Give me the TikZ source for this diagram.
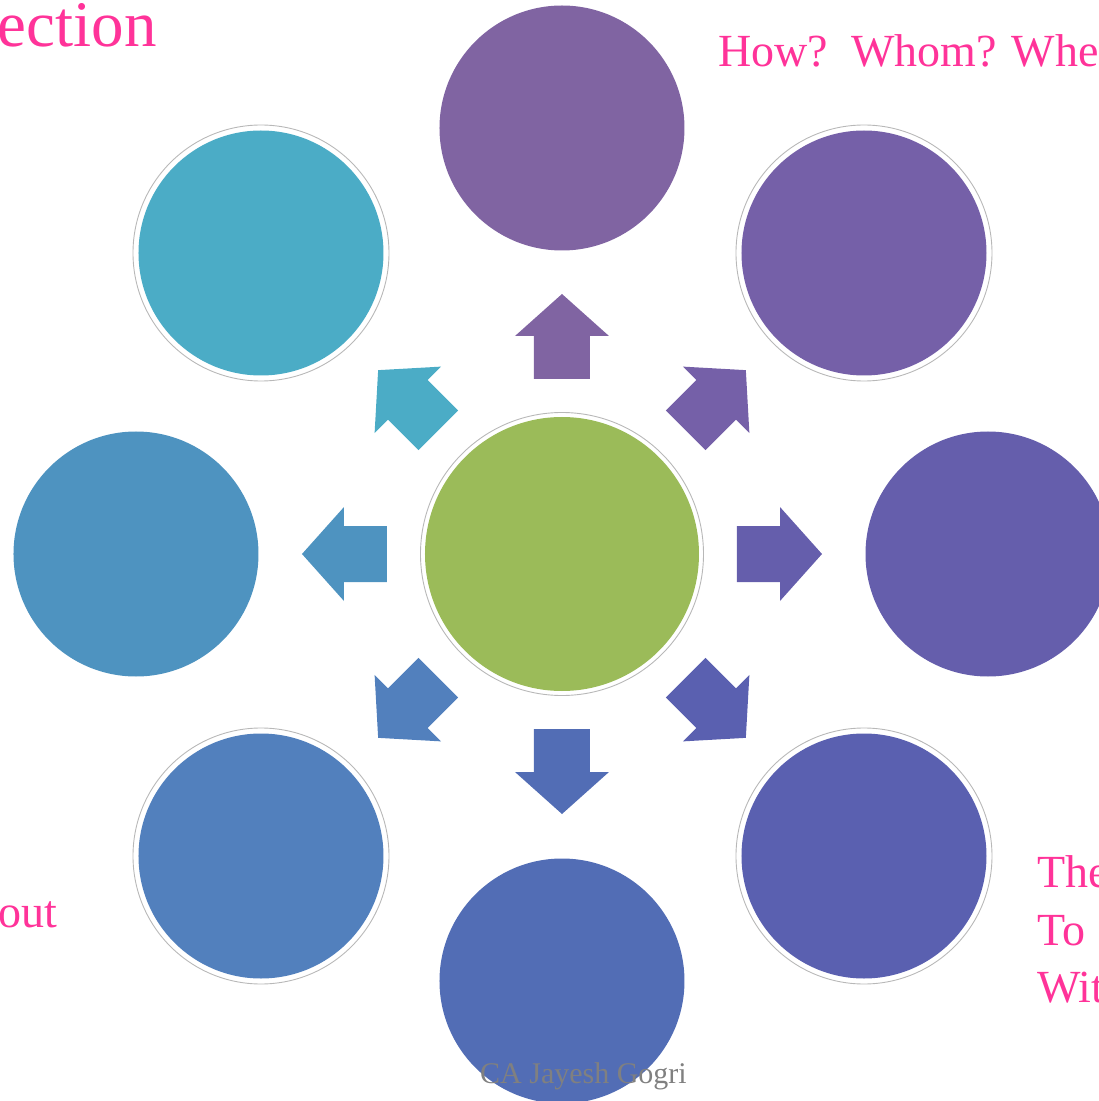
\documentclass[tikz,border=0pt]{standalone}
\usepackage{fontspec}
\setmainfont{Liberation Serif}
\definecolor{coregreen}{HTML}{9BBB59}
\definecolor{cN}{HTML}{8064A2}
\definecolor{cNE}{HTML}{7560A8}
\definecolor{cE}{HTML}{655EAC}
\definecolor{cSE}{HTML}{5A60B0}
\definecolor{cS}{HTML}{526DB5}
\definecolor{cSW}{HTML}{5280BD}
\definecolor{cW}{HTML}{4E93C0}
\definecolor{cNW}{HTML}{4BACC6}
\definecolor{tagpink}{RGB}{255,51,153}
\begin{document}
\begin{tikzpicture}[x=1pt,y=1pt,
  petal/.style={circle,fill=#1,draw=none,minimum size=245pt,inner sep=0pt},
  ring/.style={draw=black!28,line width=0.9pt},
  tag/.style={text=tagpink,font=\fontsize{46}{46}\selectfont,inner sep=0pt}]
\useasboundingbox (-562,-547) rectangle (537,554);
\clip (-562,-547) rectangle (537,554);
% centre and the eight outer circles
\node[circle,fill=coregreen,minimum size=274pt,inner sep=0pt] (core) at (0,0) {};
\draw[ring] (core.center) circle[radius=141.5];
\node[petal=cN] (pN) at (0,426) {};
\node[petal=cNE] (pNE) at (302,301) {};
\draw[ring] (pNE.center) circle[radius=128];
\node[petal=cE] (pE) at (426,0) {};
\node[petal=cSE] (pSE) at (302,-302) {};
\draw[ring] (pSE.center) circle[radius=128];
\node[petal=cS] (pS) at (0,-427) {};
\node[petal=cSW] (pSW) at (-301,-302) {};
\draw[ring] (pSW.center) circle[radius=128];
\node[petal=cW] (pW) at (-426,0) {};
\node[petal=cNW] (pNW) at (-301,301) {};
\draw[ring] (pNW.center) circle[radius=128];
% block arrows
\fill[cN,rotate=90] (175,-28) -- (218,-28) -- (218,-47) -- (260,0) -- (218,47) -- (218,28) -- (175,28) -- cycle;
\fill[cNE,rotate=45] (175,-28) -- (218,-28) -- (218,-47) -- (260,0) -- (218,47) -- (218,28) -- (175,28) -- cycle;
\fill[cE,rotate=0] (175,-28) -- (218,-28) -- (218,-47) -- (260,0) -- (218,47) -- (218,28) -- (175,28) -- cycle;
\fill[cSE,rotate=-45] (175,-28) -- (218,-28) -- (218,-47) -- (260,0) -- (218,47) -- (218,28) -- (175,28) -- cycle;
\fill[cS,rotate=-90] (175,-28) -- (218,-28) -- (218,-47) -- (260,0) -- (218,47) -- (218,28) -- (175,28) -- cycle;
\fill[cSW,rotate=-135] (175,-28) -- (218,-28) -- (218,-47) -- (260,0) -- (218,47) -- (218,28) -- (175,28) -- cycle;
\fill[cW,rotate=180] (175,-28) -- (218,-28) -- (218,-47) -- (260,0) -- (218,47) -- (218,28) -- (175,28) -- cycle;
\fill[cNW,rotate=135] (175,-28) -- (218,-28) -- (218,-47) -- (260,0) -- (218,47) -- (218,28) -- (175,28) -- cycle;
% texts
\node[tag,font=\fontsize{65}{65}\selectfont,anchor=base east] (ttl) at (-405,507) {ection};
\node[tag,anchor=base west] (qs) at (156,487) {How?\ \ Whom? Whe};
\node[tag,anchor=base west] (l1) at (475,-333) {The};
\node[tag,anchor=base west] (l2) at (475,-391) {To};
\node[tag,anchor=base west] (l3) at (475,-448) {Wit};
\node[tag,anchor=base east] (ab) at (-505,-373) {out};
\node[text=gray,font=\fontsize{30}{30}\selectfont,inner sep=0pt,anchor=base] (auth) at (21.5,-529) {CA Jayesh Gogri};
\end{tikzpicture}
\end{document}
